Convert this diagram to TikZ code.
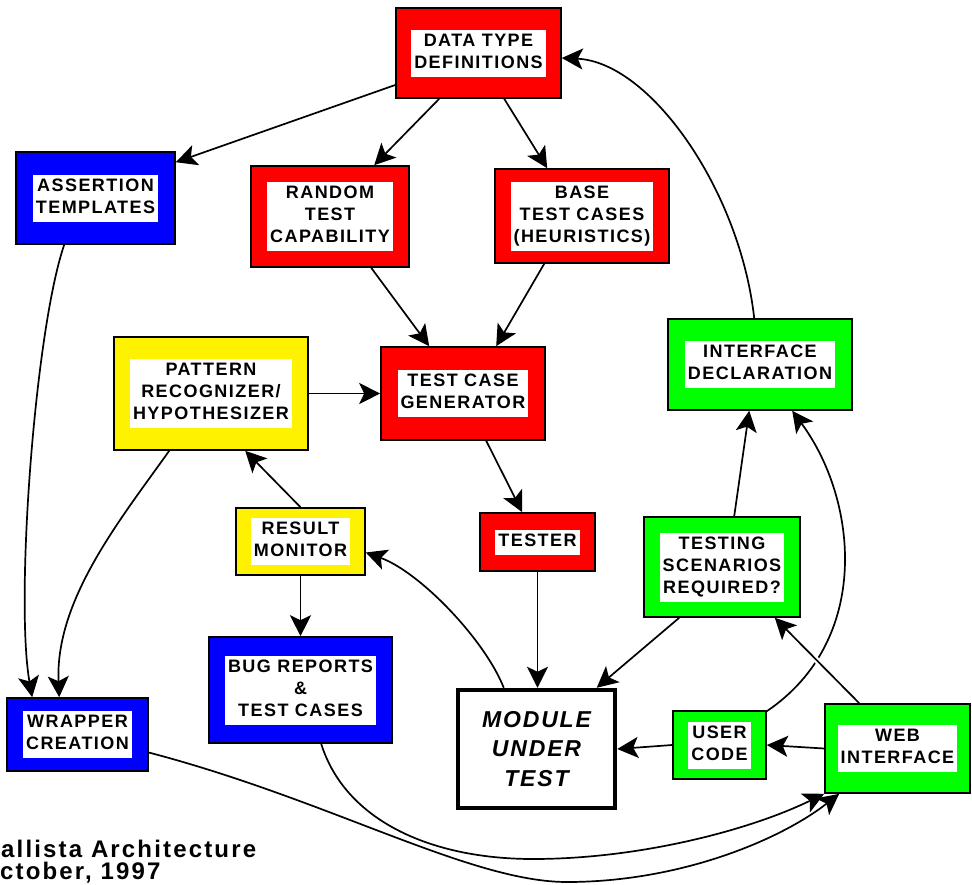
\documentclass[tikz,border=0pt]{standalone}
\usepackage{fontspec}
\setmainfont{Liberation Sans}
\newfontfamily\boxfont{Liberation Sans}[LetterSpace=8]
\newfontfamily\capfont{Liberation Sans}[LetterSpace=9]
\usetikzlibrary{arrows.meta}

\setlength{\fboxsep}{1.5pt}
% white label panel inside each coloured box
\newcommand{\wlabel}[1]{\colorbox{white}{\begin{tabular}{@{\hspace{1.5pt}}c@{\hspace{1.5pt}}}#1\end{tabular}}}

\begin{document}
\begin{tikzpicture}[x=1pt, y=-1pt,
  unit/.style={draw=black, line width=1.6pt, fill=#1, inner sep=0pt,
    font=\boxfont\bfseries\fontsize{18}{22}\selectfont},
  link/.style={line width=1.7pt, -{Stealth[length=21pt, width=21pt, inset=5pt]}},
  caption/.style={anchor=base west, inner sep=0pt,
    font=\capfont\bfseries\fontsize{24}{27}\selectfont}]
  \useasboundingbox (0,0) rectangle (972,884);

  % Boxes
  \node[unit=red, minimum width=165pt, minimum height=90pt] (dtd) at (478.5,53) {\wlabel{DATA TYPE\\DEFINITIONS}};
  \node[unit=blue, minimum width=159pt, minimum height=92pt] (asrt) at (95.5,198) {\wlabel{ASSERTION\\TEMPLATES}};
  \node[unit=red, minimum width=158pt, minimum height=101pt] (rand) at (330,216.5) {\wlabel{RANDOM\\TEST\\CAPABILITY}};
  \node[unit=red, minimum width=174pt, minimum height=94pt] (base) at (582,216) {\wlabel{BASE\\TEST CASES\\(HEURISTICS)}};
  \node[unit=yellow, minimum width=194pt, minimum height=113pt] (pat) at (211,393.5) {\wlabel{PATTERN\\RECOGNIZER/\\HYPOTHESIZER}};
  \node[unit=red, minimum width=164pt, minimum height=93pt] (tcg) at (463,393.5) {\wlabel{TEST CASE\\GENERATOR}};
  \node[unit=green, minimum width=184pt, minimum height=91pt] (intf) at (760,364.5) {\wlabel{INTERFACE\\DECLARATION}};
  \node[unit=yellow, minimum width=129pt, minimum height=67pt] (rmon) at (300.5,541.5) {\wlabel{RESULT\\MONITOR}};
  \node[unit=red, minimum width=115pt, minimum height=58pt] (tester) at (537.5,542) {\wlabel{TESTER}};
  \node[unit=green, minimum width=156pt, minimum height=100pt] (tsr) at (722,567) {\wlabel{TESTING\\SCENARIOS\\REQUIRED?}};
  \node[unit=blue, minimum width=141pt, minimum height=73pt] (wrap) at (77.5,734.5) {\wlabel{WRAPPER\\CREATION}};
  \node[unit=blue, minimum width=183pt, minimum height=106pt] (bug) at (300.5,690) {\wlabel{BUG REPORTS\\\&\\TEST CASES}};
  \node[unit=white, line width=4.5pt, minimum width=157pt, minimum height=118pt,
    font=\boxfont\bfseries\itshape\fontsize{23}{29.5}\selectfont, align=center] (mut) at (536.5,749) {MODULE\\UNDER\\TEST};
  \node[unit=green, minimum width=93pt, minimum height=68pt] (user) at (719.5,745) {\wlabel{USER\\CODE}};
  \node[unit=green, minimum width=145pt, minimum height=89pt] (web) at (897.5,748.5) {\wlabel{WEB\\INTERFACE}};

  % Caption, bottom left
  \node[caption] (cap1) at (1,857) {allista Architecture};
  \node[caption] (cap2) at (0,879) {ctober, 1997};

  % Straight connectors
  \draw[link] ([yshift=-32pt]dtd.west) -- ([yshift=-11pt]asrt.north east);
  \draw[link] ([xshift=44pt]dtd.south west) -- ([xshift=124pt]rand.north west);
  \draw[link] ([xshift=109pt]dtd.south west) -- ([xshift=53pt]base.north west);
  \draw[link] ([xshift=121pt]rand.south west) -- ([xshift=49pt]tcg.north west);
  \draw[link] ([xshift=50pt]base.south west) -- ([xshift=116pt]tcg.north west);
  \draw[link] (pat.east) -- (tcg.west);
  \draw[link] ([xshift=106pt]tcg.south west) -- ([xshift=43pt]tester.north west);
  \draw[link] (rmon.north) -- ([xshift=132pt]pat.south west);
  \draw[link] (rmon.south) -- (bug.north);
  \draw[link] (tester.south) -- (tester.south |- mut.north);
  \draw[link] ([xshift=36pt]tsr.south west) -- ([xshift=141pt]mut.north west);
  \draw[link] ([xshift=91pt]tsr.north west) -- ([xshift=82pt]intf.south west);
  \draw[link] (web.west) -- (user.east);
  \draw[link] (user.west) -- (mut.east);

  % Curved connectors
  \draw[link] ([xshift=87pt]intf.north west) .. controls (740,190) and (650,62) .. ([yshift=-5pt]dtd.east);
  \draw[link] ([xshift=48pt]mut.north west) .. controls (485,640) and (420,572) .. ([yshift=-11pt]rmon.east);
  \draw[link] ([yshift=-1pt]user.north east) .. controls (872,640) and (858,500) .. ([xshift=125pt]intf.south west);
  \draw[link, preaction={draw=white, line width=6pt, -, shorten <=30pt, shorten >=30pt}]
    ([xshift=35pt]web.north west) -- ([xshift=-26pt]tsr.south east);
  \draw[link] ([xshift=49pt]asrt.south west) .. controls (35,330) and (15,600) .. ([xshift=26pt]wrap.north west);
  \draw[link] ([xshift=56pt]pat.south west) .. controls (120,520) and (55,600) .. ([xshift=53pt]wrap.north west);
  \draw[link] ([yshift=-18pt]wrap.east) .. controls (330,800) and (470,882) .. (567,882)
    .. controls (680,882) and (780,840) .. ([xshift=15pt]web.south west);
  \draw[link] ([xshift=113pt]bug.south west) .. controls (345,820) and (430,859) .. (533,859)
    .. controls (640,859) and (750,830) .. (web.south west);
\end{tikzpicture}
\end{document}
